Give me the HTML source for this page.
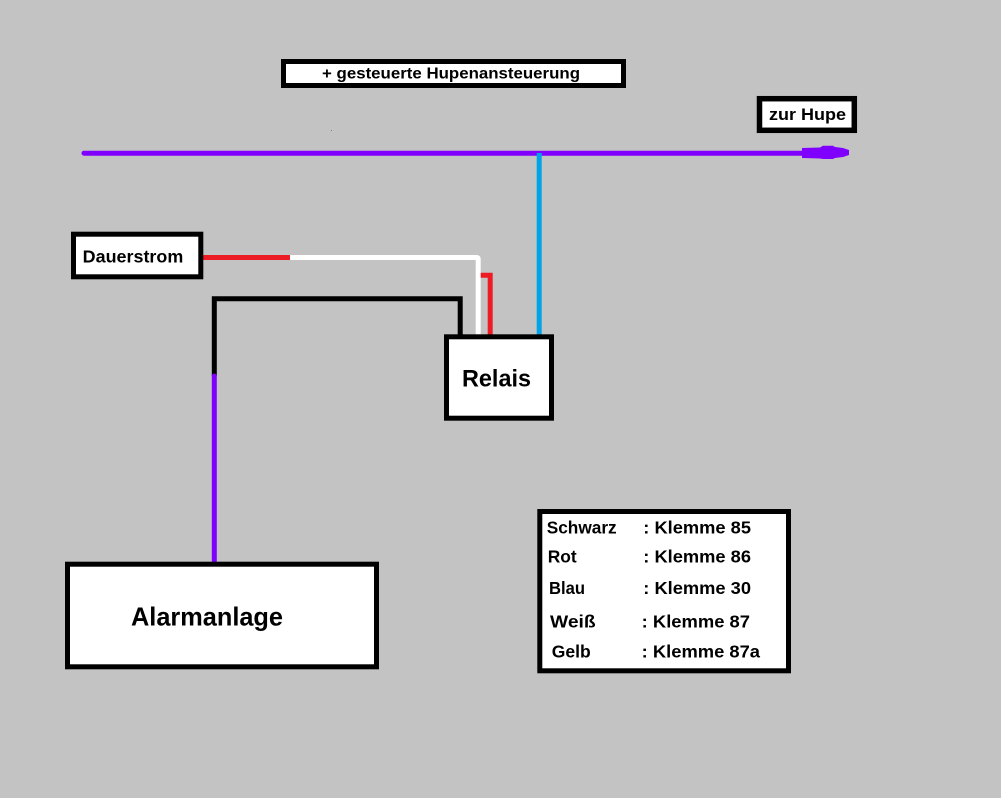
<!DOCTYPE html>
<html><head><meta charset="utf-8"><style>
html,body{margin:0;padding:0;background:#c3c3c3;}
svg{display:block;}
text{font-family:"Liberation Sans",Arial,sans-serif;font-weight:bold;fill:#000;}
</style></head><body>
<svg width="1001" height="798" viewBox="0 0 1001 798" xmlns="http://www.w3.org/2000/svg">
<rect x="0" y="0" width="1001" height="798" fill="#c3c3c3"/>
<rect x="331" y="130" width="1" height="1" fill="#b07040"/>

<!-- purple main line + arrow -->
<line x1="84" y1="153.2" x2="810" y2="153.2" stroke="#8000ff" stroke-width="5" stroke-linecap="round"/>
<polygon points="802,148 820,147.5 823,145.7 833,145.7 835,147 843,148 849,150 849,155 843,157 835,158 833,159 823,159 820,158.5 802,158" fill="#8000ff"/>

<!-- blue -->
<line x1="539.2" y1="153" x2="539.2" y2="336" stroke="#00a2e8" stroke-width="5"/>

<!-- red from Dauerstrom -->
<line x1="203" y1="257.5" x2="290" y2="257.5" stroke="#ed1c24" stroke-width="5" stroke-linecap="round"/>
<!-- white -->
<path d="M290 257.5 H477 Q478.2 257.5 478.2 259 V336" fill="none" stroke="#ffffff" stroke-width="5"/>
<!-- small red -->
<path d="M480.7 275.2 H490.2 V336" fill="none" stroke="#ed1c24" stroke-width="5"/>

<!-- black -->
<path d="M214.3 376 V298.8 H460.2 V336" fill="none" stroke="#000" stroke-width="5"/>
<!-- purple vertical -->
<line x1="214.3" y1="376" x2="214.3" y2="563" stroke="#8000ff" stroke-width="5" stroke-linecap="round"/>

<!-- boxes -->
<rect x="283.5" y="61.5" width="340" height="24" fill="#fff" stroke="#000" stroke-width="5"/>
<rect x="759.5" y="98.7" width="94.8" height="31.6" fill="#fff" stroke="#000" stroke-width="5.5"/>
<rect x="73.5" y="234.2" width="127.3" height="42.6" fill="#fff" stroke="#000" stroke-width="5"/>
<rect x="446.5" y="336.8" width="105" height="81.4" fill="#fff" stroke="#000" stroke-width="5"/>
<rect x="67.5" y="564.2" width="309" height="102.6" fill="#fff" stroke="#000" stroke-width="5"/>
<rect x="539.8" y="511.5" width="248.7" height="159.3" fill="#fff" stroke="#000" stroke-width="5"/>

<!-- text -->
<text x="322" y="78.5" font-size="15.5" textLength="258" lengthAdjust="spacingAndGlyphs">+ gesteuerte Hupenansteuerung</text>
<text x="769" y="120" font-size="17" textLength="77" lengthAdjust="spacingAndGlyphs">zur Hupe</text>
<text x="82.7" y="262.7" font-size="17.5" textLength="100.6" lengthAdjust="spacingAndGlyphs">Dauerstrom</text>
<text x="462" y="386.7" font-size="24" textLength="69" lengthAdjust="spacingAndGlyphs">Relais</text>
<text x="131" y="625.7" font-size="26" textLength="152" lengthAdjust="spacingAndGlyphs">Alarmanlage</text>

<text x="546.7" y="533.3" font-size="17.5" textLength="70" lengthAdjust="spacingAndGlyphs">Schwarz</text>
<text x="547.7" y="562.7" font-size="17.5" textLength="29" lengthAdjust="spacingAndGlyphs">Rot</text>
<text x="549" y="594" font-size="17.5" textLength="36" lengthAdjust="spacingAndGlyphs">Blau</text>
<text x="550" y="627.7" font-size="17.5" textLength="45.7" lengthAdjust="spacingAndGlyphs">Weiß</text>
<text x="551.7" y="657.7" font-size="17.5" textLength="39" lengthAdjust="spacingAndGlyphs">Gelb</text>

<text x="643.3" y="533.3" font-size="17.5" textLength="107.7" lengthAdjust="spacingAndGlyphs">: Klemme 85</text>
<text x="643.3" y="562.7" font-size="17.5" textLength="107.7" lengthAdjust="spacingAndGlyphs">: Klemme 86</text>
<text x="643.3" y="594" font-size="17.5" textLength="107.7" lengthAdjust="spacingAndGlyphs">: Klemme 30</text>
<text x="641.7" y="627.7" font-size="17.5" textLength="108.3" lengthAdjust="spacingAndGlyphs">: Klemme 87</text>
<text x="641.7" y="657.7" font-size="17.5" textLength="118.3" lengthAdjust="spacingAndGlyphs">: Klemme 87a</text>
</svg>
</body></html>
